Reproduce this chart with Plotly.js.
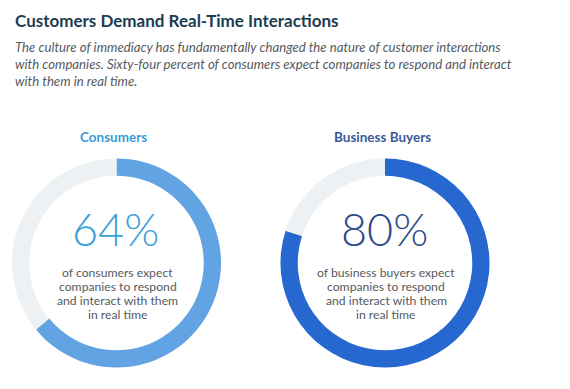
<!DOCTYPE html>
<html>
<head>
<meta charset="utf-8">
<script src="https://cdn.plot.ly/plotly-3.0.1.min.js"></script>
<style>
html,body{margin:0;padding:0;background:#fff;}
#chart{width:570px;height:389px;}
</style>
</head>
<body>
<div id="chart"></div>
<script>
// ---- data ----
const groups = ['Consumers', 'Business Buyers'];
const percentValues = [64, 80];
const descriptionLines = [
  ['of consumers expect', 'companies to respond', 'and interact with them', 'in real time'],
  ['of business buyers expect', 'companies to respond', 'and interact with them', 'in real time']
];
const chartTitle = 'Customers Demand Real-Time Interactions';
const subtitleLines = [
  'The culture of immediacy has fundamentally changed the nature of customer interactions',
  'with companies. Sixty-four percent of consumers expect companies to respond and interact',
  'with them in real time.'
];

// ---- styles ----
const W = 570, H = 389;
const px = x => x / W;
const py = y => 1 - y / H;
const arcColors = ['#62a3e3', '#2668d0'];
const trackColor = '#eef1f4';
const groupTitleColors = ['#3a9ad6', '#3b5a9a'];
const bigNumColors = ['#3a9fd8', '#2f4a8a'];
const centers = [[116.5, 263], [385, 263]];
const R = 104.5;

const traces = groups.map((g, i) => ({
  type: 'pie',
  values: [percentValues[i], 100 - percentValues[i]],
  labels: [g, 'Other'],
  sort: false,
  direction: 'clockwise',
  rotation: 0,
  hole: 0.835,
  textinfo: 'none',
  hoverinfo: 'label+value',
  showlegend: false,
  marker: { colors: [arcColors[i], trackColor], line: { width: 0 } },
  domain: {
    x: [px(centers[i][0] - R), px(centers[i][0] + R)],
    y: [py(centers[i][1] + R), py(centers[i][1] - R)]
  }
}));

const annotations = [
  {
    text: chartTitle, x: px(13), y: py(21), xanchor: 'left', yanchor: 'middle',
    font: { family: 'Lato, "Open Sans", sans-serif', size: 17, color: '#1b3d4f', weight: 700 }
  }
];
subtitleLines.forEach((line, k) => {
  annotations.push({
    text: '<i>' + line + '</i>', x: px(13), y: py(47 + 17 * k), xanchor: 'left', yanchor: 'middle',
    align: 'left', font: { family: 'Lato, "Open Sans", sans-serif', size: 13.2, color: '#555a60' }
  });
});
groups.forEach((g, i) => {
  const [cx, cy] = centers[i];
  annotations.push({
    text: '<b>' + g + '</b>', x: px(cx - 3), y: py(137), xanchor: 'center', yanchor: 'middle',
    font: { family: 'Lato, "Open Sans", sans-serif', size: 13.5, color: groupTitleColors[i] }
  });
  annotations.push({
    text: percentValues[i] + '%', x: px(cx - 1), y: py(229), xanchor: 'center', yanchor: 'middle',
    font: { family: 'Lato, Roboto, sans-serif', size: 45, color: bigNumColors[i], weight: 300 }
  });
  descriptionLines[i].forEach((line, k) => {
    annotations.push({
      text: line, x: px(cx + 1), y: py(272 + 14.2 * k), xanchor: 'center', yanchor: 'middle',
      align: 'center', font: { family: 'Lato, "Open Sans", sans-serif', size: 12.2, color: '#555a60' }
    });
  });
});
annotations.forEach(a => { a.xref = 'paper'; a.yref = 'paper'; a.showarrow = false; });

const layout = {
  width: W, height: H,
  margin: { l: 0, r: 0, t: 0, b: 0 },
  paper_bgcolor: '#ffffff',
  plot_bgcolor: '#ffffff',
  annotations: annotations
};

Plotly.newPlot('chart', traces, layout, { displayModeBar: false, staticPlot: true });
</script>
</body>
</html>
